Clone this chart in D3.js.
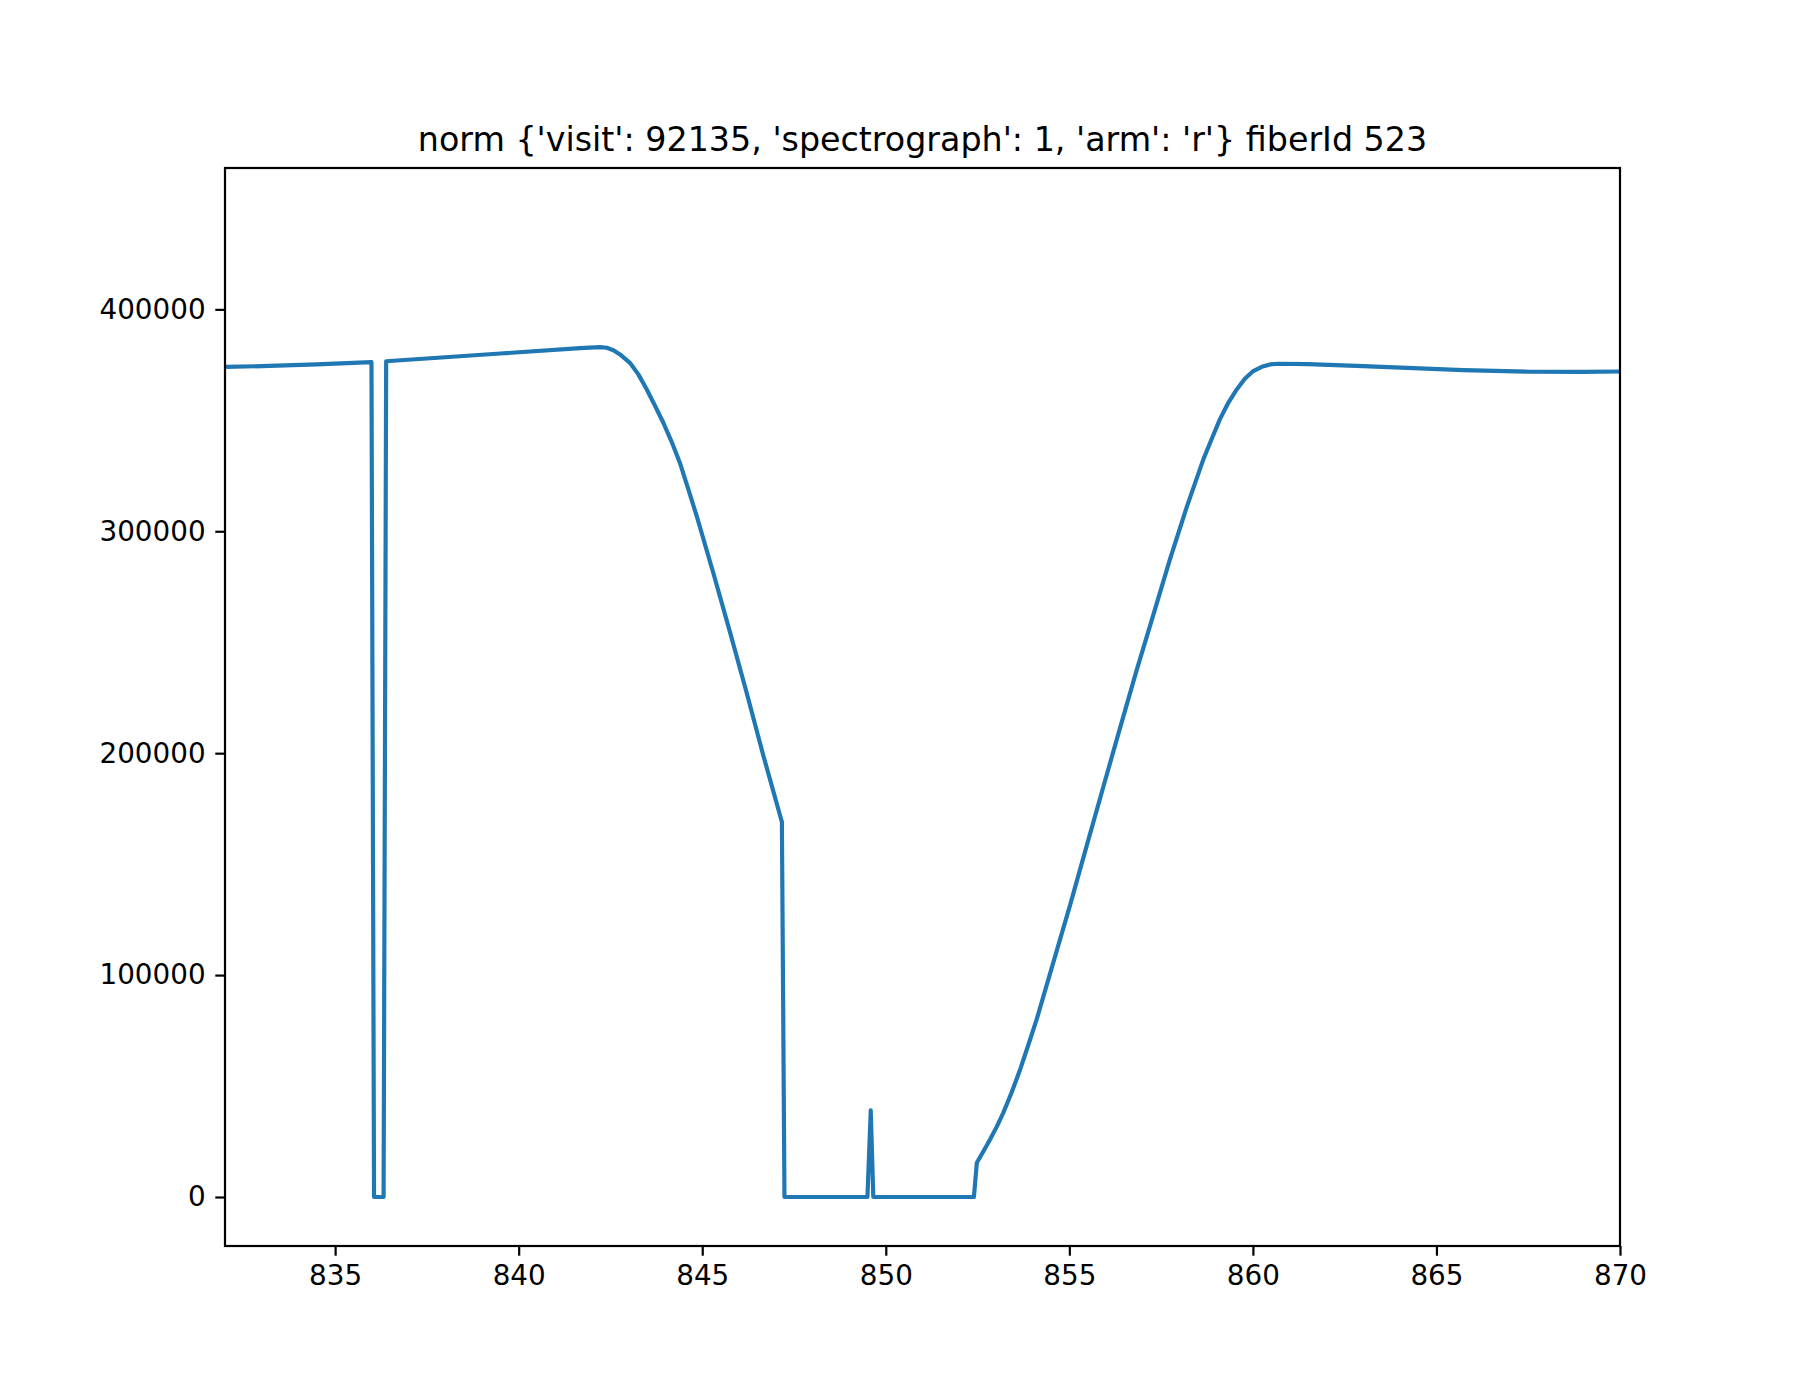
<!DOCTYPE html>
<html>
<head>
<meta charset="utf-8">
<script src="https://cdn.jsdelivr.net/npm/d3@7"></script>
<style>
  body { margin: 0; background: #fff; }
  svg { display: block; }
  text { font-family: "DejaVu Sans", sans-serif; fill: #000; }
</style>
</head>
<body>
<svg id="chart" width="1800" height="1400"></svg>
<script>
// ---- data ----
const titleText = "norm {'visit': 92135, 'spectrograph': 1, 'arm': 'r'} fiberId 523";
const wavelength = [
  832.0, 833.0, 834.5, 835.99, 836.06, 836.32, 836.39, 839.5, 841.67,
  842.21, 842.40, 842.58, 842.76, 843.03, 843.26, 843.49, 843.71, 843.94, 844.17,
  844.39, 844.62, 844.85, 845.30, 845.76, 846.21, 846.66, 847.17, 847.24, 849.50, 849.59,
  849.66, 852.40, 852.48, 852.66, 852.84, 853.02, 853.20, 853.43, 853.66, 853.88,
  854.11, 854.56, 855.02, 855.47, 855.93, 856.38, 856.83, 857.29, 857.74, 858.20,
  858.65, 858.88, 859.10, 859.33, 859.56, 859.78, 860.01, 860.24, 860.47, 860.69,
  861.5, 863.01, 865.73, 867.55, 869.0, 870.0
];
const flux = [
  374100, 374400, 375200, 376200, 0, 0, 376600, 380100, 382500,
  383000, 382700, 381600, 379700, 375900, 370700, 363900, 356700, 348900, 340200,
  330900, 319000, 306800, 281300, 254300, 227200, 199200, 169000, 0, 0, 39000,
  0, 0, 15400, 20600, 25900, 31600, 37900, 47200, 57500, 68400,
  80000, 105500, 131500, 158100, 185100, 211300, 237200, 262400, 287300, 311000,
  332400, 341700, 350400, 357900, 363900, 368700, 372200, 374100, 375200, 375500,
  375300, 374400, 372600, 371900, 371800, 372000
];
const xTicks = [835, 840, 845, 850, 855, 860, 865, 870];
const yTicks = [0, 100000, 200000, 300000, 400000];
const xDomain = [832, 870];
const yDomain = [-22080, 463700];

(function () {
  // ---- layout ----
  const W = 1800, H = 1400;
  const mLeft = 225, mRight = 1620, mTop = 168, mBottom = 1246;
  const lineColor = "#1f77b4";
  const tickLen = 9.7, tickPad = 9.7, tickFont = 27.8, titleFont = 33.3;

  const svg = d3.select("#chart");
  svg.append("rect").attr("width", W).attr("height", H).attr("fill", "#fff");

  const x = d3.scaleLinear().domain(xDomain).range([mLeft, mRight]);
  const y = d3.scaleLinear().domain(yDomain).range([mBottom, mTop]);

  const data = wavelength.map((w, i) => ({ w, f: flux[i] }));

  svg.append("defs").append("clipPath").attr("id", "clip")
    .append("rect").attr("x", mLeft).attr("y", mTop)
    .attr("width", mRight - mLeft).attr("height", mBottom - mTop);

  const line = d3.line().x(d => x(d.w)).y(d => y(d.f));
  svg.append("path")
    .datum(data)
    .attr("clip-path", "url(#clip)")
    .attr("fill", "none")
    .attr("stroke", lineColor)
    .attr("stroke-width", 4.17)
    .attr("stroke-linejoin", "round")
    .attr("stroke-linecap", "butt")
    .attr("d", line);

  // axes
  const xAxis = d3.axisBottom(x).tickValues(xTicks).tickFormat(d3.format("d"))
    .tickSize(tickLen).tickPadding(tickPad);
  const gx = svg.append("g").attr("transform", `translate(0,${mBottom})`).call(xAxis);
  const yAxis = d3.axisLeft(y).tickValues(yTicks).tickFormat(d3.format("d"))
    .tickSize(tickLen).tickPadding(tickPad);
  const gy = svg.append("g").attr("transform", `translate(${mLeft},0)`).call(yAxis);

  [gx, gy].forEach(g => {
    g.select(".domain").remove();
    g.selectAll(".tick line").attr("stroke", "#000").attr("stroke-width", 2.2);
    g.selectAll(".tick text")
      .attr("font-family", "DejaVu Sans, sans-serif")
      .attr("font-size", tickFont)
      .attr("fill", "#000");
  });

  // frame
  svg.append("rect")
    .attr("x", mLeft).attr("y", mTop)
    .attr("width", mRight - mLeft).attr("height", mBottom - mTop)
    .attr("fill", "none").attr("stroke", "#000").attr("stroke-width", 2.2);

  // title
  svg.append("text")
    .attr("x", (mLeft + mRight) / 2)
    .attr("y", mTop - 16.7)
    .attr("text-anchor", "middle")
    .attr("font-size", titleFont)
    .text(titleText);
})();
</script>
</body>
</html>
